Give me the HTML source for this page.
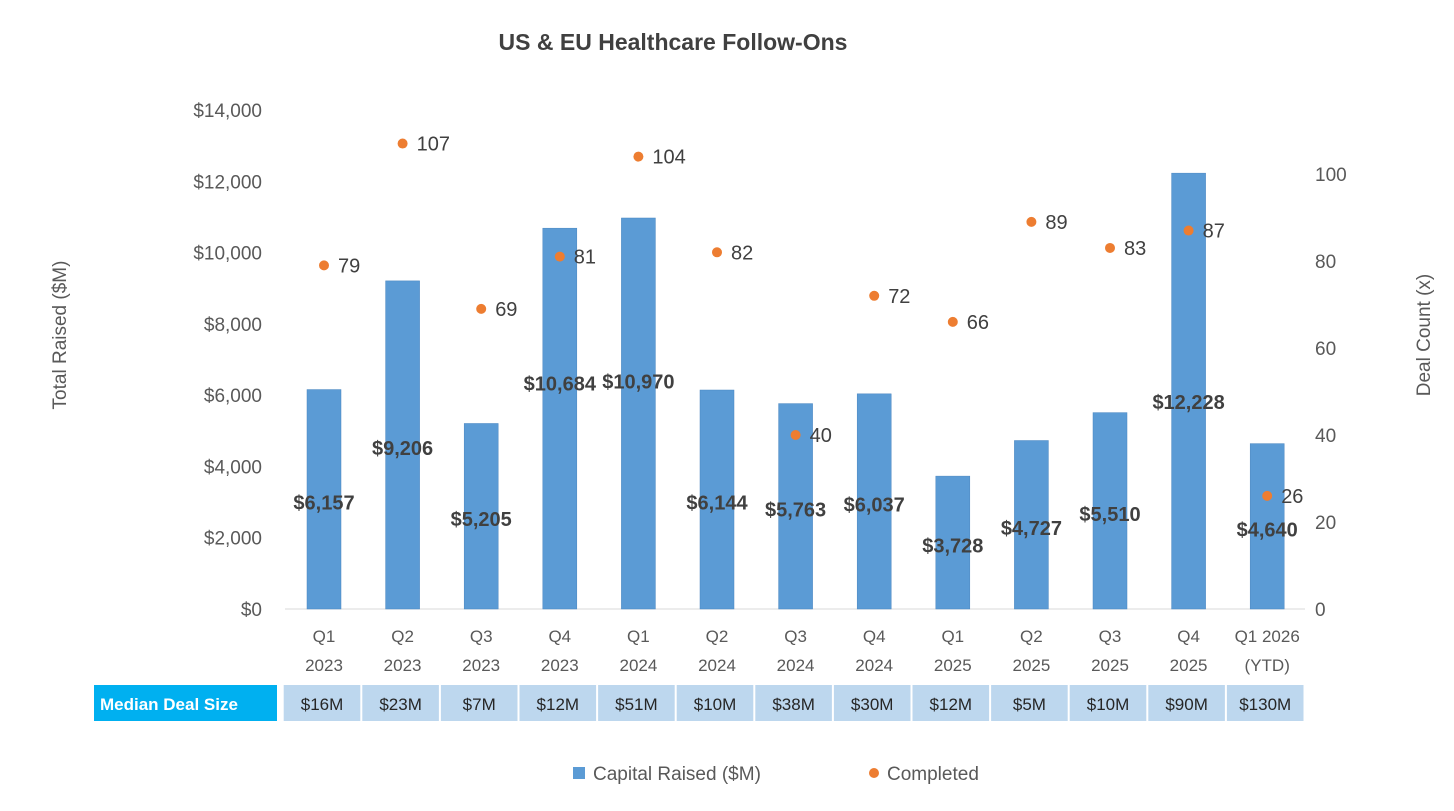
<!DOCTYPE html>
<html><head><meta charset="utf-8"><style>
body{margin:0;background:#fff;font-family:"Liberation Sans",sans-serif;}
svg text{font-family:"Liberation Sans",sans-serif;}
</style></head><body>
<svg id="chart" width="1454" height="806" xmlns="http://www.w3.org/2000/svg">
<text x="673" y="50" text-anchor="middle" font-size="23" font-weight="bold" fill="#404040">US &amp; EU Healthcare Follow-Ons</text>
<text transform="translate(66,335) rotate(-90)" text-anchor="middle" font-size="19" fill="#595959">Total Raised ($M)</text>
<text transform="translate(1430,335) rotate(-90)" text-anchor="middle" font-size="19" fill="#595959">Deal Count (x)</text>
<g id="axes"></g><g id="bars"></g><g id="points"></g><g id="labels"></g><g id="table"></g>
<g>
<rect x="573" y="767" width="12" height="12" fill="#5b9bd5"/>
<text x="593" y="780" font-size="19" fill="#595959">Capital Raised ($M)</text>
<circle cx="874" cy="773" r="5" fill="#ed7d31"/>
<text x="887" y="780" font-size="19" fill="#595959">Completed</text>
</g>
</svg>
<script>
const categories=["Q1|2023","Q2|2023","Q3|2023","Q4|2023","Q1|2024","Q2|2024","Q3|2024","Q4|2024","Q1|2025","Q2|2025","Q3|2025","Q4|2025","Q1 2026|(YTD)"];
const capital=[6157,9206,5205,10684,10970,6144,5763,6037,3728,4727,5510,12228,4640];
const deals=[79,107,69,81,104,82,40,72,66,89,83,87,26];
const medians=["$16M","$23M","$7M","$12M","$51M","$10M","$38M","$30M","$12M","$5M","$10M","$90M","$130M"];
const leftTicks=[0,2000,4000,6000,8000,10000,12000,14000];
const rightTicks=[0,20,40,60,80,100];
const NS="http://www.w3.org/2000/svg";
const y0=609, yL=v=>y0-v*(499/14000), yR=v=>y0-v*4.35;
const xC=i=>324+i*78.6;
function mk(tag,parent,attrs,txt){const e=document.createElementNS(NS,tag);for(const k in attrs)e.setAttribute(k,attrs[k]);if(txt!==undefined)e.textContent=txt;document.getElementById(parent).appendChild(e);return e;}
const fmt=v=>"$"+v.toLocaleString("en-US");
let e=mk("line","axes",{x1:285,x2:1305,y1:y0,y2:y0,stroke:"#d9d9d9","stroke-width":1});


leftTicks.forEach(t=>{const el=mk("text","axes",{x:262,y:yL(t)+7,"text-anchor":"end","font-size":19,fill:"#595959"},fmt(t));

});
rightTicks.forEach(t=>{const el=mk("text","axes",{x:1315,y:yR(t)+7,"font-size":19,fill:"#595959"},t);

});
const labelShift=i=>(i==3?-8:0)+(i==4?-5:0)+(i==11?8:0);
categories.forEach((c,i)=>{const p=c.split("|");
p.forEach((s,j)=>{const el=mk("text","axes",{x:xC(i),y:642+j*29,"text-anchor":"middle","font-size":17,fill:"#595959"},s);

});
const b=mk("rect","bars",{x:xC(i)-17,y:yL(capital[i]),width:34,height:y0-yL(capital[i]),fill:"#5b9bd5",stroke:"#4a86c0","stroke-width":0.5});


const bl=mk("text","labels",{x:xC(i),y:(y0+yL(capital[i]))/2+10+labelShift(i)+(i==3||i==4?-30:0),"text-anchor":"middle","font-size":20,"font-weight":"bold",fill:"#404040"},fmt(capital[i]));


const pt=mk("circle","points",{cx:xC(i),cy:yR(deals[i]),r:5,fill:"#ed7d31"});


const pl=mk("text","labels",{x:xC(i)+14,y:yR(deals[i])+7,"font-size":20,fill:"#404040"},deals[i]);


const cw=76.6;
const cell=mk("rect","table",{x:xC(i)-cw/2-2,y:685,width:cw,height:36,fill:"#bdd7ee"});


const ct=mk("text","table",{x:xC(i)-2,y:710,"text-anchor":"middle","font-size":17,fill:"#262626"},medians[i]);


});
const lc=mk("rect","table",{x:94,y:685,width:183,height:36,fill:"#00b0f0"});


const lt=mk("text","table",{x:100,y:710,"font-size":17,"font-weight":"bold",fill:"#fff"},"Median Deal Size");


</script>
</body></html>
